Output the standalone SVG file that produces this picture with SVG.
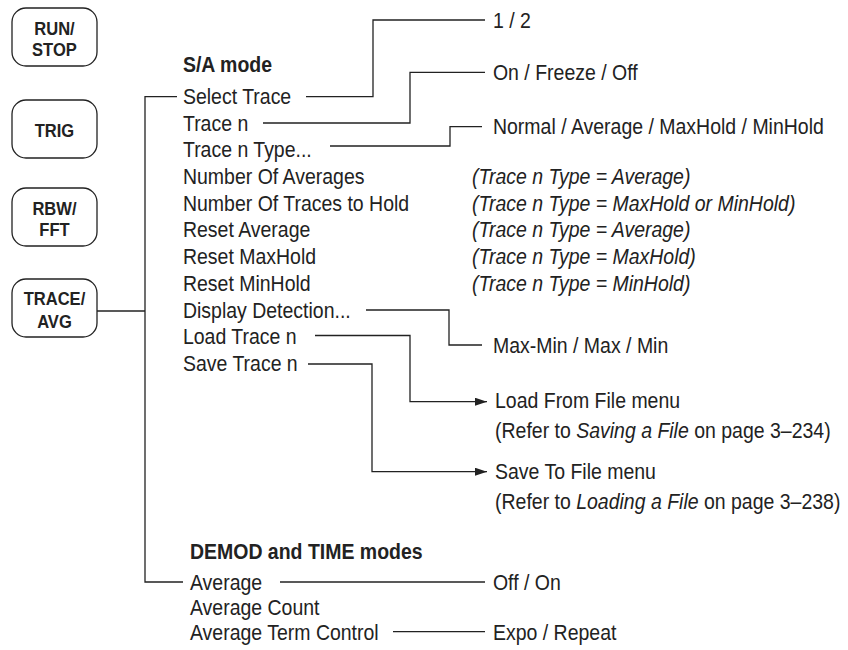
<svg xmlns="http://www.w3.org/2000/svg" width="848" height="650" viewBox="0 0 848 650">
<defs>
<marker id="arr" viewBox="0 0 12 8" refX="12" refY="4" markerWidth="12" markerHeight="8" markerUnits="userSpaceOnUse" orient="auto">
<path d="M0,0 L12,4 L0,8 Z" fill="#222"/>
</marker>
<style>
.btn{fill:#fff;stroke:#222;stroke-width:1.3}
.bt{font-family:"Liberation Sans",Arial,sans-serif;font-weight:bold;font-size:18px;fill:#222;text-anchor:middle}
.t{font-family:"Liberation Sans",Arial,sans-serif;font-size:22px;fill:#222}
.h{font-family:"Liberation Sans",Arial,sans-serif;font-size:22px;font-weight:bold;fill:#222}
.i{font-family:"Liberation Sans",Arial,sans-serif;font-size:22px;font-style:italic;fill:#222}
.c{fill:none;stroke:#222;stroke-width:1.3}
</style>
</defs>
<rect width="848" height="650" fill="#fff"/>

<g id="btn-runstop"><rect class="btn" x="12" y="8" width="85" height="58" rx="14"/><text class="bt" transform="scale(0.92,1)" x="59.2" y="35">RUN/</text><text class="bt" transform="scale(0.92,1)" x="59.2" y="56">STOP</text></g>
<g id="btn-trig"><rect class="btn" x="12" y="100" width="85" height="58" rx="14"/><text class="bt" transform="scale(0.92,1)" x="59.2" y="137">TRIG</text></g>
<g id="btn-rbw"><rect class="btn" x="12" y="188" width="85" height="58" rx="14"/><text class="bt" transform="scale(0.92,1)" x="59.2" y="215">RBW/</text><text class="bt" transform="scale(0.92,1)" x="59.2" y="236">FFT</text></g>
<g id="btn-trace"><rect class="btn" x="12" y="279" width="85" height="58" rx="14"/><text class="bt" transform="scale(0.92,1)" x="59.2" y="305">TRACE/</text><text class="bt" transform="scale(0.92,1)" x="59.2" y="328">AVG</text></g>

<g id="sa-menu" transform="scale(0.886,1)">
<text class="h" x="206.5" y="72">S/A mode</text>
<text class="t" x="206.5" y="104">Select Trace</text>
<text class="t" x="206.5" y="131">Trace n</text>
<text class="t" x="206.5" y="157">Trace n Type...</text>
<text class="t" x="206.5" y="184">Number Of Averages</text>
<text class="t" x="206.5" y="211">Number Of Traces to Hold</text>
<text class="t" x="206.5" y="237">Reset Average</text>
<text class="t" x="206.5" y="264">Reset MaxHold</text>
<text class="t" x="206.5" y="291">Reset MinHold</text>
<text class="t" x="206.5" y="318">Display Detection...</text>
<text class="t" x="206.5" y="344">Load Trace n</text>
<text class="t" x="206.5" y="371">Save Trace n</text>
</g>

<g id="sa-notes" transform="scale(0.886,1)">
<text class="i" x="532.7" y="184">(Trace n Type = Average)</text>
<text class="i" x="532.7" y="211">(Trace n Type = MaxHold or MinHold)</text>
<text class="i" x="532.7" y="237">(Trace n Type = Average)</text>
<text class="i" x="532.7" y="264">(Trace n Type = MaxHold)</text>
<text class="i" x="532.7" y="291">(Trace n Type = MinHold)</text>
</g>

<g id="sa-options" transform="scale(0.886,1)">
<text class="t" x="556.4" y="28">1 / 2</text>
<text class="t" x="556.4" y="80">On / Freeze / Off</text>
<text class="t" x="556.4" y="134">Normal / Average / MaxHold / MinHold</text>
<text class="t" x="556.4" y="353">Max-Min / Max / Min</text>
</g>

<g id="load-file" transform="scale(0.886,1)">
<text class="t" x="558.7" y="408">Load From File menu</text>
<text class="t" x="558.7" y="438">(Refer to <tspan font-style="italic">Saving a File</tspan> on page 3–234)</text>
</g>
<g id="save-file" transform="scale(0.886,1)">
<text class="t" x="558.7" y="479">Save To File menu</text>
<text class="t" x="558.7" y="509">(Refer to <tspan font-style="italic">Loading a File</tspan> on page 3–238)</text>
</g>

<g id="demod-menu" transform="scale(0.886,1)">
<text class="h" x="214.4" y="559">DEMOD and TIME modes</text>
<text class="t" x="214.4" y="590">Average</text>
<text class="t" x="214.4" y="615">Average Count</text>
<text class="t" x="214.4" y="640">Average Term Control</text>
<text class="t" x="556.4" y="590">Off / On</text>
<text class="t" x="556.4" y="640">Expo / Repeat</text>
</g>

<g id="connectors">
<path class="c" d="M97,311 H145"/>
<path class="c" d="M177,96.7 H145 V582 H183"/>
<path class="c" d="M306,96.7 H373 V20 H485"/>
<path class="c" d="M263,123 H410 V72.3 H485"/>
<path class="c" d="M330,146 H450 V126.7 H482"/>
<path class="c" d="M366,310 H449 V345 H482"/>
<path class="c" d="M315,335.5 H410 V401.7 H487" marker-end="url(#arr)"/>
<path class="c" d="M308,364 H372 V471.7 H487" marker-end="url(#arr)"/>
<path class="c" d="M280,582 H485"/>
<path class="c" d="M393,631.7 H485"/>
</g>
</svg>
